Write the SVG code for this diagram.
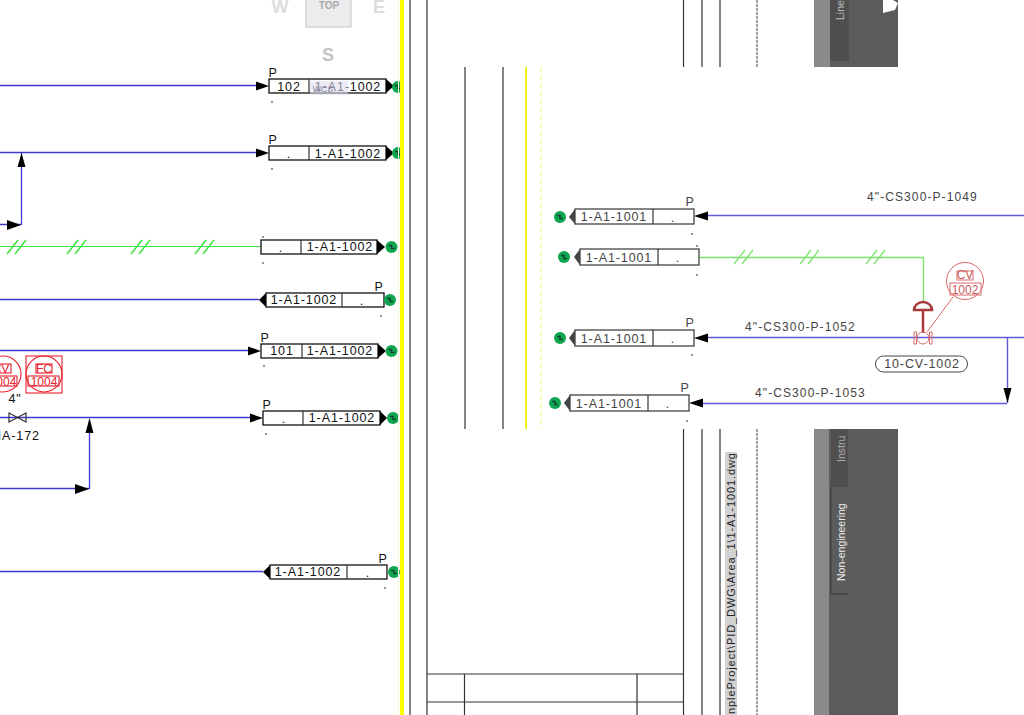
<svg xmlns="http://www.w3.org/2000/svg" width="1024" height="715" viewBox="0 0 1024 715">
<style>
text{font-family:"Liberation Sans",Arial,sans-serif}
.t{font-size:12.5px;fill:#111;text-anchor:middle;letter-spacing:.9px}
.g{fill:#444}
.box{fill:#fff;stroke:#111;stroke-width:1.3}
.gb{fill:#fff;stroke:#444;stroke-width:1.3}
.dot{fill:#111}
.bl{stroke:#4038d0;stroke-width:1.3;fill:none}
.blr{stroke:#6058d8;stroke-width:1.4;fill:none}
.gr{stroke:#3fe53f;stroke-width:1.2;fill:none}
.grs{stroke:#3fe53f;stroke-width:1.5;fill:none}
.grr{stroke:#78e468;stroke-width:1.3;fill:none}
.k{stroke:#333;stroke-width:1.2;fill:none}
.rd{stroke:#e8202a;stroke-width:1.1;fill:none}
.rt{font-size:12px;fill:#e8202a;text-anchor:middle}
.pr{stroke:#d86a6a;stroke-width:1;fill:none}
.prt{font-size:12px;fill:#c85a5a;text-anchor:middle}
.lab{font-size:12px;fill:#444;letter-spacing:1.1px}
</style>
<defs>
<g id="bub"><circle r="6" fill="#0fa650"/><path d="M-3 -1.500L0 -1.500L0 1.500L3 1.500" fill="none" stroke="#143" stroke-width="1.500"/></g>
</defs>
<rect width="1024" height="715" fill="#fff"/>

<g id="viewcube" fill="none">
<rect x="306" y="-10" width="45" height="37" fill="#ececef" stroke="#c4c4c4"/>
<text x="329" y="9" font-size="10" font-weight="bold" fill="#a9a9a9" text-anchor="middle">TOP</text>
<text x="280" y="13" font-size="18" font-weight="bold" fill="#dcdcdc" text-anchor="middle">W</text>
<text x="379" y="13" font-size="18" font-weight="bold" fill="#dcdcdc" text-anchor="middle">E</text>
<text x="328" y="61" font-size="18" font-weight="bold" fill="#c4c4c4" text-anchor="middle">S</text>
</g>

<g id="panels">
<rect x="814" y="0" width="84" height="67" fill="#5c5c5c"/>
<rect x="814" y="0" width="16" height="67" fill="#8a8a8a"/>
<rect x="830" y="0" width="19" height="61" fill="#4f4f4f"/>
<path d="M883 0L893 0L898 3L895 10L883 13Z" fill="#fff"/>
<text transform="translate(844 20) rotate(-90)" font-size="10.500" fill="#bbb">Line</text>
<rect x="814" y="429" width="84" height="286" fill="#5c5c5c"/>
<rect x="814" y="429" width="15" height="286" fill="#8a8a8a"/>
<rect x="831" y="429" width="17" height="58" fill="#4f4f4f"/>
<path d="M831 487V594H848" stroke="#444" stroke-width="1.500" fill="none"/>
<text transform="translate(845 462) rotate(-90)" font-size="10.500" fill="#aaa">Instru</text>
<text transform="translate(845 581) rotate(-90)" font-size="10.500" fill="#eee">Non-engineering</text>
<rect x="725" y="452" width="12" height="263" fill="#d2d2d2"/>
<text transform="translate(735 714) rotate(-90)" font-size="11" fill="#222" textLength="261" lengthAdjust="spacing">npleProject\PID_DWG\Area_1\1-A1-1001.dwg</text>
</g>

<g id="connectors">
<path class="bl" d="M0 85.500H258M0 152.500H258M0 299.500H259M0 350.500H248M0 417.500H252M0 488.500H89.500M89.500 489V425M21.500 153V225M0 224.500H21M0 571.500H263"/>
<path class="gr" d="M0 246.500H261"/>
<path class="grs" d="M7 254L18 240M15 254L26 240M67 254L78 240M75 254L86 240M131 254L142 240M139 254L150 240M195 254L206 240M203 254L214 240"/>
<path d="M21.500 153L17.500 167H25.500Z M21 225L7 220V230Z M89 489L75 484V494Z M89.500 418L85.500 433H93.500Z" fill="#000"/>
<path class="blr" d="M708 215.500H1024M708 337.500H1024M703 403.500H1007M1007.500 338V403"/>
<path d="M1007.500 403L1003.500 388H1011.500Z" fill="#000"/>
<path class="grr" d="M699 257.500H923.500V301"/>
<path class="grr" d="M734 264L745 250M742 264L753 250M800 264L811 250M808 264L819 250M866 264L877 250M874 264L885 250"/>
</g>

<g id="L1"><path d="M256 81.500V90.500L269 86Z"/><rect class="box" x="269" y="79" width="117" height="14"/><path class="k" d="M309 79V93"/><path d="M386 79V93L394 86Z"/><use href="#bub" x="398" y="87"/><text class="t" x="289" y="91">102</text><text class="t" x="348" y="91">1-A1-1002</text><text class="t" x="273" y="77">P</text><circle class="dot" cx="272" cy="102" r=".8"/><rect x="310" y="81" width="38" height="14" fill="#dcdcf0" opacity=".55"/><text x="323" y="92" font-size="9" fill="#8e8ea6" text-anchor="middle">WCS</text></g>
<g id="L2"><path d="M256 148.500V157.500L269 153Z"/><rect class="box" x="269" y="146" width="117" height="14"/><path class="k" d="M309 146V160"/><path d="M386 146V160L394 153Z"/><use href="#bub" x="398" y="153"/><text class="t" x="289" y="158">.</text><text class="t" x="348" y="158">1-A1-1002</text><text class="t" x="273" y="144">P</text><circle class="dot" cx="272" cy="169" r=".8"/></g>
<g id="L3"><rect class="box" x="261" y="240" width="116" height="14"/><path class="k" d="M301 240V254"/><path d="M377 240V254L385 247Z"/><use href="#bub" x="391.500" y="247"/><text class="t" x="281" y="252">.</text><text class="t" x="340" y="251">1-A1-1002</text><circle class="dot" cx="263" cy="237" r=".8"/><circle class="dot" cx="263" cy="263" r=".8"/></g>
<g id="L4"><path d="M266 293V307L259 300Z"/><rect class="box" x="266" y="293" width="118" height="14"/><path class="k" d="M342 293V307"/><use href="#bub" x="390" y="300"/><text class="t" x="304" y="304">1-A1-1002</text><text class="t" x="362" y="305">.</text><text class="t" x="379" y="291">P</text><circle class="dot" cx="381" cy="316" r=".8"/></g>
<g id="L5"><path d="M248 346.500V355.500L261 351Z"/><rect class="box" x="261" y="344" width="117" height="14"/><path class="k" d="M302 344V358"/><path d="M378 344V358L386 351Z"/><use href="#bub" x="391.500" y="351"/><text class="t" x="282" y="355">101</text><text class="t" x="340" y="355">1-A1-1002</text><text class="t" x="265" y="342">P</text><circle class="dot" cx="264" cy="366" r=".8"/></g>
<g id="L6"><path d="M250 413.500V422.500L263 418Z"/><rect class="box" x="263" y="411" width="117" height="14"/><path class="k" d="M303 411V425"/><path d="M380 411V425L387 418Z"/><use href="#bub" x="393" y="418"/><text class="t" x="284" y="423">.</text><text class="t" x="342" y="422">1-A1-1002</text><text class="t" x="267" y="409">P</text><circle class="dot" cx="266" cy="434" r=".8"/></g>
<g id="L7"><path d="M270 565V579L263 572Z"/><rect class="box" x="270" y="565" width="117" height="14"/><path class="k" d="M347 565V579"/><use href="#bub" x="394" y="572"/><text class="t" x="308" y="576">1-A1-1002</text><text class="t" x="368" y="577">.</text><text class="t" x="383" y="563">P</text><circle class="dot" cx="385" cy="588" r=".8"/></g>

<g id="sheet-lines">
<rect x="400" y="0" width="4" height="715" fill="#ffff00"/>
<path d="M398.500 0V715" stroke="#f6f4d4" fill="none"/>
<path class="k" d="M410 0V715M427 0V715"/>
<path class="k" d="M465 67V429M503 67V429"/>
<rect x="525" y="67" width="2" height="362" fill="#f4f020"/>
<path d="M541 67V429" stroke="#f6f290" stroke-dasharray="5 3" fill="none"/>
<path class="k" d="M683.500 0V67M702 0V67M720 0V67M683.500 429V715M702 429V715M720 429V715"/>
<path d="M757 0V67M757 429V715" stroke="#444" stroke-dasharray="3 1" fill="none"/>
<path class="k" d="M427 674H684M427 702H684M464.500 674V715M637 674V715"/>
</g>

<g id="R1"><use href="#bub" x="560" y="217"/><path d="M575 209V224L569 217Z" fill="#444"/><rect class="gb" x="575" y="209" width="119" height="15"/><path class="k" d="M653 209V224"/><text class="t g" x="614" y="221">1-A1-1001</text><text class="t g" x="673" y="222">.</text><text class="t g" x="690" y="206">P</text><path d="M694 216L708 211.500V220.500Z"/><circle class="dot" cx="692" cy="234" r=".8"/></g>
<g id="R2"><use href="#bub" x="564" y="257"/><path d="M580 249V265L574 257Z" fill="#444"/><rect class="gb" x="580" y="249" width="119" height="16"/><path class="k" d="M658 249V265"/><text class="t g" x="619" y="262">1-A1-1001</text><text class="t g" x="678" y="262">.</text><circle class="dot" cx="697" cy="246" r=".8"/><circle class="dot" cx="697" cy="275" r=".8"/></g>
<g id="R3"><use href="#bub" x="560" y="338"/><path d="M575 330V346L569 338Z" fill="#444"/><rect class="gb" x="575" y="330" width="119" height="16"/><path class="k" d="M653 330V346"/><text class="t g" x="614" y="343">1-A1-1001</text><text class="t g" x="673" y="343">.</text><text class="t g" x="690" y="327">P</text><path d="M694 338L708 333.500V342.500Z"/><circle class="dot" cx="692" cy="355" r=".8"/></g>
<g id="R4"><use href="#bub" x="555" y="403"/><path d="M570 395V411L564 403Z" fill="#444"/><rect class="gb" x="570" y="395" width="119" height="16"/><path class="k" d="M648 395V411"/><text class="t g" x="609" y="408">1-A1-1001</text><text class="t g" x="668" y="408">.</text><text class="t g" x="685" y="392">P</text><path d="M689 403L703 398.500V407.500Z" fill="#000"/><circle class="dot" cx="687" cy="421" r=".8"/></g>

<g id="CV1004"><circle class="rd" cx="3" cy="374" r="18"/><rect class="rd" x="-10" y="364" width="21" height="9"/><rect class="rd" x="-12" y="376" width="29" height="10"/><text class="rt" x="1" y="373">CV</text><text class="rt" x="3" y="386">1004</text></g>
<g id="FC1004"><circle class="rd" cx="44" cy="374" r="18"/><rect class="rd" x="26" y="356" width="36" height="37"/><rect class="rd" x="36" y="364" width="16" height="9"/><rect class="rd" x="28" y="376" width="31" height="10"/><text class="rt" x="44" y="373">FC</text><text class="rt" x="44" y="386">1004</text></g>
<g id="HA172"><path class="k" d="M9 413L26 422V413L9 422Z"/><text class="t" x="15" y="403">4"</text><text class="t" x="16" y="440">HA-172</text></g>

<g id="CV1002"><circle class="pr" cx="965" cy="281" r="18.500"/><rect class="pr" x="957" y="271" width="16" height="9"/><rect class="pr" x="950" y="283" width="31" height="12"/><text class="prt" x="965" y="279">CV</text><text class="prt" x="965" y="293.500">1002</text><path class="pr" d="M953 297L927 332"/>
<path d="M914 310A9 8 0 0 1 932 310Z" fill="#fff" stroke="#a83a3a" stroke-width="2.500"/><path d="M923 310V333" stroke="#a83a3a" stroke-width="2.500"/>
<circle class="pr" cx="923" cy="338" r="6"/><path class="pr" d="M914 332H916.500V344H914ZM929.500 332H932V344H929.500Z"/></g>
<g id="tag"><rect x="875.500" y="356" width="92" height="16" rx="8" fill="#fff" stroke="#444"/><text class="t g" x="922" y="368">10-CV-1002</text></g>
<g id="line-labels">
<text class="lab" x="867" y="201">4"-CS300-P-1049</text>
<text class="lab" x="745" y="331">4"-CS300-P-1052</text>
<text class="lab" x="755" y="397">4"-CS300-P-1053</text>
</g>
</svg>
